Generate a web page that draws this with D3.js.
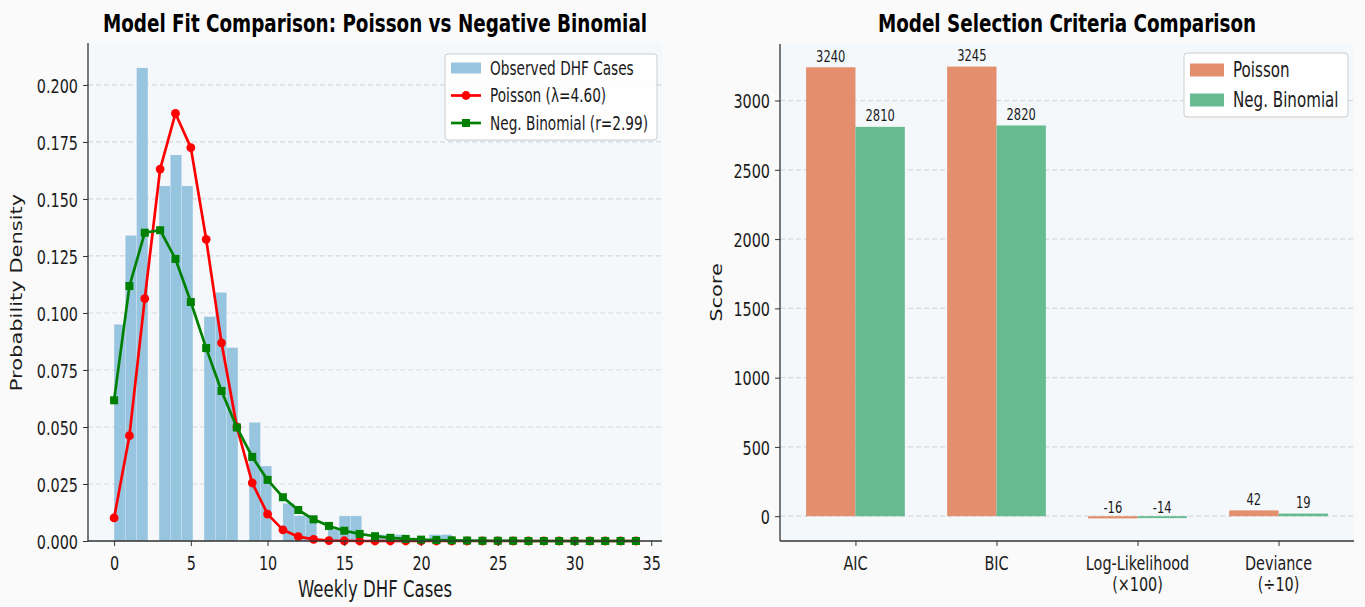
<!DOCTYPE html>
<html><head><meta charset="utf-8">
<script src="https://cdn.jsdelivr.net/npm/d3@7"></script>
<style>
html,body{margin:0;padding:0;background:#fafafa;}
svg{display:block;font-family:"DejaVu Sans",sans-serif;}
</style></head><body>
<svg id="chart" width="1365" height="607"></svg>
<script>
// ---------------- DATA ----------------
const caseValues = [0,1,2,3,4,5,6,7,8,9,10,11,12,13,14,15,16,17,18,19,20,21,22,23,24,25,26,27,28,29,30,31,32,33,34];
const poissonProb = [0.0101,0.0462,0.1063,0.1631,0.1875,0.1725,0.1323,0.0869,0.0500,0.0255,0.0118,0.0049,0.0019,0.0007,0.0002,0.0001,0,0,0,0,0,0,0,0,0,0,0,0,0,0,0,0,0,0,0];
const negBinProb = [0.0617,0.1118,0.1352,0.1363,0.1237,0.1048,0.0846,0.0658,0.0498,0.0369,0.0268,0.0192,0.0136,0.0095,0.0066,0.0045,0.0031,0.0021,0.0014,0.0009,0.0006,0.0004,0.0003,0.0002,0.0001,0.0001,0.0001,0,0,0,0,0,0,0,0];
const observedCases = [0,1,2,3,4,5,6,7,8,9,10,11,12,13,14,15,16,17,18,19,20,21,22];
const observedDensity = [0.095,0.134,0.2075,0.1557,0.1693,0.1557,0.0984,0.109,0.0848,0.052,0.0329,0.0165,0.0111,0.0111,0.0050,0.011,0.011,0.0028,0.0028,0.0028,0,0.0028,0.0028];
const histRange = [0, 22];
const histBinCount = 30;
const leftXTicks = [0,5,10,15,20,25,30,35];
const leftYTicks = [0,0.025,0.05,0.075,0.1,0.125,0.15,0.175,0.2];

const criteria = ["AIC","BIC","Log-Likelihood\n(×100)","Deviance\n(÷10)"];
const poissonScores = [3240,3245,-16,42];
const negBinScores = [2810,2820,-14,19];
const scoreTicks = [0,500,1000,1500,2000,2500,3000];

// ---------------- STYLE ----------------
const SX = 0.72; // horizontal text compression of the reference
const C = {
  axesBg:"#f5f8fb", grid:"#d6d9dd", spine:"#333333", text:"#1a1a1a",
  hist:"#97c4df", poisson:"#ff0000", negbin:"#008000",
  barP:"#e38f6d", barN:"#66bb91"
};

const svg = d3.select("#chart");
svg.append("rect").attr("width",1365).attr("height",607).attr("fill","#fafafa");

function addText(g, x, y, s, o={}) {
  return g.append("text")
    .attr("transform", `translate(${x},${y}) scale(${SX},1)` + (o.rotate ? ` rotate(${o.rotate})` : ""))
    .attr("text-anchor", o.anchor || "start")
    .attr("font-size", o.size || 20)
    .attr("font-weight", o.weight || "normal")
    .attr("fill", o.fill || C.text)
    .text(s);
}

function styleAxis(g, orient) {
  g.select(".domain").remove();
  g.selectAll(".tick line").attr("stroke", C.spine).attr("stroke-width", 1);
  g.selectAll(".tick text").attr("font-size", 20).attr("fill", C.text)
    .attr("font-family", "DejaVu Sans");
  if (orient === "left") {
    g.selectAll(".tick text").attr("transform", `scale(${SX},1)`).attr("x", -10 / SX).attr("dy", "0.36em");
  } else {
    g.selectAll(".tick text").attr("transform", `scale(${SX},1)`).attr("y", 29).attr("dy", 0);
  }
}

// ================= LEFT CHART =================
const L = {x0:88, x1:662, y0:43, y1:541};
const xL = d3.scaleLinear().domain([-1.7, 35.7]).range([L.x0, L.x1]);
const yL = d3.scaleLinear().domain([0, 0.2184]).range([L.y1, L.y0]);
const gL = svg.append("g");

gL.append("rect").attr("x",L.x0).attr("y",L.y0).attr("width",L.x1-L.x0).attr("height",L.y1-L.y0).attr("fill",C.axesBg);
gL.append("g").selectAll("line").data(leftYTicks).join("line")
  .attr("x1",L.x0).attr("x2",L.x1).attr("y1",d=>yL(d)).attr("y2",d=>yL(d))
  .attr("stroke",C.grid).attr("stroke-width",1.2).attr("stroke-dasharray","5,3");

// histogram (density) bars: integer case counts binned like the reference
const binW = (histRange[1]-histRange[0]) / histBinCount;
const histBars = observedCases.map((k,i) => {
  const b = Math.min(Math.floor((k - histRange[0]) * histBinCount / (histRange[1]-histRange[0]) + 1e-9), histBinCount-1);
  return {x0: histRange[0] + b*binW, x1: histRange[0] + (b+1)*binW, v: observedDensity[i]};
}).filter(d => d.v > 0);
gL.append("g").selectAll("rect").data(histBars).join("rect")
  .attr("x", d=>xL(d.x0)).attr("width", d=>xL(d.x1)-xL(d.x0))
  .attr("y", d=>yL(d.v)).attr("height", d=>yL(0)-yL(d.v))
  .attr("fill", C.hist).attr("stroke","#ffffff").attr("stroke-opacity",0.25).attr("stroke-width",0.6);

const lineGen = d3.line().x((d,i)=>xL(caseValues[i])).y(d=>yL(d));
gL.append("path").datum(poissonProb).attr("d",lineGen).attr("fill","none")
  .attr("stroke",C.poisson).attr("stroke-width",2.7).attr("stroke-linejoin","round");
gL.append("g").selectAll("circle").data(poissonProb).join("circle")
  .attr("cx",(d,i)=>xL(caseValues[i])).attr("cy",d=>yL(d)).attr("r",4.4).attr("fill",C.poisson);
gL.append("path").datum(negBinProb).attr("d",lineGen).attr("fill","none")
  .attr("stroke",C.negbin).attr("stroke-width",2.7).attr("stroke-linejoin","round");
gL.append("g").selectAll("rect").data(negBinProb).join("rect")
  .attr("x",(d,i)=>xL(caseValues[i])-4).attr("y",d=>yL(d)-4).attr("width",8).attr("height",8).attr("fill",C.negbin);

// axes
const axL = gL.append("g").attr("transform",`translate(${L.x0},0)`)
  .call(d3.axisLeft(yL).tickValues(leftYTicks).tickFormat(d3.format(".3f")).tickSizeOuter(0).tickSize(5));
styleAxis(axL,"left");
const axB = gL.append("g").attr("transform",`translate(0,${L.y1})`)
  .call(d3.axisBottom(xL).tickValues(leftXTicks).tickFormat(d3.format("d")).tickSizeOuter(0).tickSize(5));
styleAxis(axB,"bottom");
gL.append("line").attr("x1",L.x0).attr("x2",L.x0).attr("y1",L.y0).attr("y2",L.y1).attr("stroke",C.spine).attr("stroke-width",1.3);
gL.append("line").attr("x1",L.x0).attr("x2",L.x1).attr("y1",L.y1).attr("y2",L.y1).attr("stroke",C.spine).attr("stroke-width",1.3);

addText(gL,(L.x0+L.x1)/2,32,"Model Fit Comparison: Poisson vs Negative Binomial",{size:25.5,weight:"bold",anchor:"middle",fill:"#000"});
addText(gL,(L.x0+L.x1)/2,597,"Weekly DHF Cases",{size:23,anchor:"middle"});
addText(gL,22,292.5,"Probability Density",{size:21,anchor:"middle",rotate:-90});

// legend
const lg = gL.append("g");
lg.append("rect").attr("x",445).attr("y",54).attr("width",212).attr("height",86).attr("rx",3)
  .attr("fill","#ffffff").attr("fill-opacity",0.85).attr("stroke","#cccccc");
const legRows = [
  {label:"Observed DHF Cases", type:"patch", color:C.hist},
  {label:"Poisson (λ=4.60)", type:"circle", color:C.poisson},
  {label:"Neg. Binomial (r=2.99)", type:"square", color:C.negbin}
];
legRows.forEach((r,i)=>{
  const cy = 68 + i*27.5;
  if (r.type==="patch") {
    lg.append("rect").attr("x",451).attr("y",cy-5.5).attr("width",30).attr("height",11).attr("fill",r.color);
  } else {
    lg.append("line").attr("x1",451).attr("x2",481).attr("y1",cy).attr("y2",cy).attr("stroke",r.color).attr("stroke-width",2.7);
    if (r.type==="circle") lg.append("circle").attr("cx",466).attr("cy",cy).attr("r",4.4).attr("fill",r.color);
    else lg.append("rect").attr("x",462).attr("y",cy-4).attr("width",8).attr("height",8).attr("fill",r.color);
  }
  addText(lg,490,cy+6.8,r.label,{size:19});
});

// ================= RIGHT CHART =================
const R = {x0:780, x1:1354, y0:44, y1:541};
const xR = d3.scaleLinear().domain([-0.535, 3.535]).range([R.x0, R.x1]);
const yR = d3.scaleLinear().domain([-179, 3408]).range([R.y1, R.y0]);
const gR = svg.append("g");
const barW = 0.35;

gR.append("rect").attr("x",R.x0).attr("y",R.y0).attr("width",R.x1-R.x0).attr("height",R.y1-R.y0).attr("fill",C.axesBg);
gR.append("g").selectAll("line").data(scoreTicks).join("line")
  .attr("x1",R.x0).attr("x2",R.x1).attr("y1",d=>yR(d)).attr("y2",d=>yR(d))
  .attr("stroke",C.grid).attr("stroke-width",1.2).attr("stroke-dasharray","5,3");

const series = [
  {name:"Poisson", vals:poissonScores, color:C.barP, off:-barW},
  {name:"Neg. Binomial", vals:negBinScores, color:C.barN, off:0}
];
series.forEach(s=>{
  const g = gR.append("g");
  g.selectAll("rect").data(s.vals).join("rect")
    .attr("x",(d,i)=>xR(i+s.off)).attr("width",xR(barW)-xR(0))
    .attr("y",d=>yR(Math.max(d,0))).attr("height",d=>Math.abs(yR(d)-yR(0)))
    .attr("fill",s.color);
  s.vals.forEach((d,i)=>{
    addText(g, xR(i+s.off+barW/2), yR(d)-5.5, String(d), {size:16, anchor:"middle"});
  });
});

const axRL = gR.append("g").attr("transform",`translate(${R.x0},0)`)
  .call(d3.axisLeft(yR).tickValues(scoreTicks).tickFormat(d3.format("d")).tickSizeOuter(0).tickSize(5));
styleAxis(axRL,"left");
const axRB = gR.append("g").attr("transform",`translate(0,${R.y1})`)
  .call(d3.axisBottom(xR).tickValues(criteria.map((c,i)=>i)).tickFormat("").tickSizeOuter(0).tickSize(5));
styleAxis(axRB,"bottom");
criteria.forEach((c,i)=>{
  c.split("\n").forEach((line,j)=>{
    addText(gR, xR(i), 570 + j*21, line, {size:20, anchor:"middle"});
  });
});
gR.append("line").attr("x1",R.x0).attr("x2",R.x0).attr("y1",R.y0).attr("y2",R.y1).attr("stroke",C.spine).attr("stroke-width",1.3);
gR.append("line").attr("x1",R.x0).attr("x2",R.x1).attr("y1",R.y1).attr("y2",R.y1).attr("stroke",C.spine).attr("stroke-width",1.3);

addText(gR,(R.x0+R.x1)/2,32,"Model Selection Criteria Comparison",{size:25.5,weight:"bold",anchor:"middle",fill:"#000"});
addText(gR,722,292.5,"Score",{size:21,anchor:"middle",rotate:-90});

const lgR = gR.append("g");
lgR.append("rect").attr("x",1184).attr("y",53).attr("width",164).attr("height",64).attr("rx",3)
  .attr("fill","#ffffff").attr("fill-opacity",0.85).attr("stroke","#cccccc");
series.forEach((s,i)=>{
  const cy = 70 + i*30;
  lgR.append("rect").attr("x",1190).attr("y",cy-6.5).attr("width",34).attr("height",13).attr("fill",s.color);
  addText(lgR,1233,cy+7.3,s.name,{size:21});
});
</script>
</body></html>
